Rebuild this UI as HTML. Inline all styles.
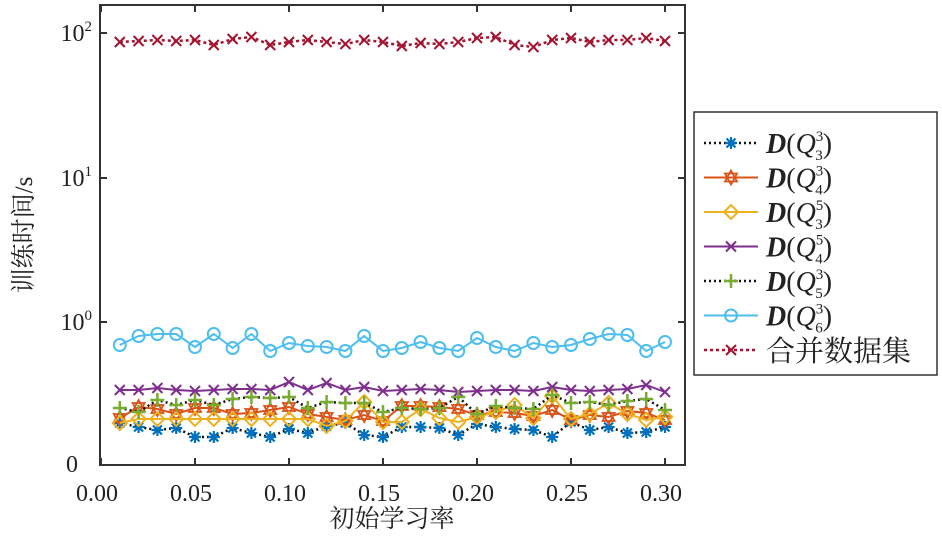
<!DOCTYPE html>
<html><head><meta charset="utf-8"><style>
body{margin:0;background:#fff;}
svg text{font-family:"Liberation Serif","Noto Serif CJK SC",serif;fill:#222;}
</style></head><body>
<svg id="s" width="942" height="534" xmlns="http://www.w3.org/2000/svg">
<rect x="0" y="0" width="942" height="534" fill="#fff"/>
<g id="data"></g>
<rect x="100" y="5" width="585" height="460" fill="none" stroke="#333" stroke-width="2"/>
<g stroke="#333" stroke-width="2">
<line x1="100" y1="33" x2="107" y2="33"/><line x1="100" y1="178" x2="107" y2="178"/><line x1="100" y1="322" x2="107" y2="322"/>
<line x1="685" y1="33" x2="678" y2="33"/><line x1="685" y1="178" x2="678" y2="178"/><line x1="685" y1="322" x2="678" y2="322"/>
</g>
<g id="xt"></g>
<g font-size="24" text-anchor="end">
<text x="92" y="41">10<tspan dy="-10" font-size="15">2</tspan></text>
<text x="92" y="186">10<tspan dy="-10" font-size="15">1</tspan></text>
<text x="92" y="330">10<tspan dy="-10" font-size="15">0</tspan></text>
<text x="78" y="472">0</text>
</g>
<text x="392" y="527" font-size="25" text-anchor="middle">初始学习率</text>
<text transform="translate(32,235) rotate(-90)" font-size="25" text-anchor="middle">训练时间/s</text>
<rect x="694" y="112" width="243" height="263" fill="#fff" stroke="#333" stroke-width="1.5"/>
<g id="leg"></g>
</svg>
<script>
const X=v=>101+v*1880;
const xs=[];for(let i=1;i<=30;i++)xs.push(i/100);
const S=[
{c:"#0072BD",m:"star",d:"dot",y:[423,427,430,428,437,437,428,433,437,429,433,426,423,435,437,427,427,428,435,424,427,429,430,437,422,430,427,433,432,427]},
{c:"#D95319",m:"hex",d:"solid",y:[418,407,409,414,408,408,414,413,410,407,414,417,420,415,421,406,406,407,409,415,412,413,416,410,420,415,417,411,413,420]},
{c:"#EDB120",m:"dia",d:"solid",y:[423,419,419,419,419,419,419,419,419,419,419,426,421,402,422,422,409,418,422,417,412,405,418,396,419,414,403,414,420,417]},
{c:"#7E2F8E",m:"x",d:"solid",y:[390,390,388,390,391,390,389,389,390,382,390,383,390,387,391,390,389,390,392,391,390,390,391,387,390,391,390,389,385,392]},
{c:"#77AC30",m:"plus",d:"dot",y:[408,412,400,405,400,405,399,397,398,397,408,402,403,403,412,408,409,408,397,414,406,408,409,395,403,402,405,401,399,410]},
{c:"#4DBEEE",m:"circ",d:"solid",y:[345,336,334,334,347,334,348,334,351,343,346,347,351,336,351,348,342,348,351,338,347,351,343,347,345,339,334,335,351,342]},
{c:"#A2142F",m:"x",d:"reddot",y:[42,41,40,41,40,45,39,37,45,42,40,42,44,40,42,46,43,44,42,38,37,45,47,40,38,42,40,40,38,41]}
];
function mk(t,x,y,c){
 if(t=="circ")return `<circle cx="${x}" cy="${y}" r="6" fill="none" stroke="${c}" stroke-width="2"/>`;
 if(t=="dia")return `<polygon points="${x},${y-7} ${x+7},${y} ${x},${y+7} ${x-7},${y}" fill="none" stroke="${c}" stroke-width="2"/>`;
 if(t=="plus")return `<path d="M${x-7} ${y}H${x+7}M${x} ${y-7}V${y+7}" stroke="${c}" stroke-width="2.5"/>`;
 if(t=="x")return `<path d="M${x-5} ${y-5}L${x+5} ${y+5}M${x-5} ${y+5}L${x+5} ${y-5}" stroke="${c}" stroke-width="2"/>`;
 if(t=="star")return `<path d="M${x-6} ${y}H${x+6}M${x} ${y-6}V${y+6}M${x-4.5} ${y-4.5}L${x+4.5} ${y+4.5}M${x-4.5} ${y+4.5}L${x+4.5} ${y-4.5}" stroke="${c}" stroke-width="2.2"/>`;
 if(t=="hex")return `<polygon points="${x},${y-7} ${x+6},${y+4} ${x-6},${y+4}" fill="none" stroke="${c}" stroke-width="1.8"/><polygon points="${x},${y+7} ${x+6},${y-4} ${x-6},${y-4}" fill="none" stroke="${c}" stroke-width="1.8"/>`;
}
let h="";
for(const s of S){
 const pts=xs.map((v,i)=>X(v)+","+s.y[i]).join(" ");
 if(s.d=="dot")h+=`<polyline points="${pts}" fill="none" stroke="#111" stroke-width="2.5" stroke-dasharray="2 3"/>`;
 else if(s.d=="reddot")h+=`<polyline points="${pts}" fill="none" stroke="${s.c}" stroke-width="2.5" stroke-dasharray="3 3"/>`;
 else h+=`<polyline points="${pts}" fill="none" stroke="${s.c}" stroke-width="2"/>`;
 xs.forEach((v,i)=>h+=mk(s.m,X(v),s.y[i],s.c));
}
document.getElementById("data").innerHTML=h;
let t="";
[0,0.05,0.1,0.15,0.2,0.25,0.3].forEach(v=>{const x=X(v);
 t+=`<line x1="${x}" y1="465" x2="${x}" y2="458" stroke="#333" stroke-width="2"/><line x1="${x}" y1="5" x2="${x}" y2="12" stroke="#333" stroke-width="2"/><text x="${x-4}" y="501" font-size="24" text-anchor="middle">${v.toFixed(2)}</text>`;});
document.getElementById("xt").innerHTML=t;
const subs=[["3","3"],["3","4"],["5","3"],["5","4"],["3","5"],["3","6"]];
let l="";
S.forEach((s,i)=>{const y=143+i*34.5;
 if(s.d=="dot")l+=`<line x1="704" y1="${y}" x2="758" y2="${y}" stroke="#111" stroke-width="2.5" stroke-dasharray="2 3"/>`;
 else if(s.d=="reddot")l+=`<line x1="704" y1="${y}" x2="758" y2="${y}" stroke="${s.c}" stroke-width="2.5" stroke-dasharray="3 3"/>`;
 else l+=`<line x1="704" y1="${y}" x2="758" y2="${y}" stroke="${s.c}" stroke-width="2"/>`;
 l+=mk(s.m,731,y,s.c);
 if(i<6)l+=`<text x="766" y="${y+10}" font-size="28"><tspan font-weight="bold" font-style="italic">D</tspan>(<tspan font-style="italic">Q</tspan><tspan font-size="15" dy="-12">${subs[i][0]}</tspan><tspan font-size="15" dx="-8" dy="19">${subs[i][1]}</tspan><tspan dy="-7">)</tspan></text>`;
 else l+=`<text x="766" y="${y+11}" font-size="29">合并数据集</text>`;
});
document.getElementById("leg").innerHTML=l;
</script>
</body></html>
